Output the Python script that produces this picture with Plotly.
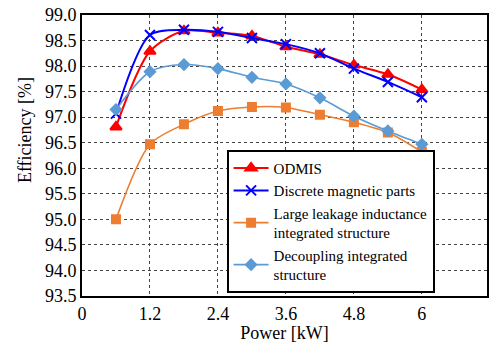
import plotly.graph_objects as go

power = [0.6, 1.2, 1.8, 2.4, 3.0, 3.6, 4.2, 4.8, 5.4, 6.0]
odmis = [96.81, 98.29, 98.69, 98.65, 98.59, 98.38, 98.23, 98.02, 97.84, 97.54]
discrete = [97.07, 98.61, 98.71, 98.67, 98.55, 98.43, 98.25, 97.95, 97.69, 97.39]
large_leak = [95.0, 96.47, 96.86, 97.12, 97.2, 97.19, 97.05, 96.9, 96.7, 96.32]
decoupling = [97.15, 97.89, 98.03, 97.95, 97.78, 97.65, 97.38, 97.02, 96.73, 96.47]

x_ticks = [0, 1.2, 2.4, 3.6, 4.8, 6]
x_ticklabels = ["0", "1.2", "2.4", "3.6", "4.8", "6"]
y_ticks = [93.5, 94.0, 94.5, 95.0, 95.5, 96.0, 96.5, 97.0, 97.5, 98.0, 98.5, 99.0]

FONT = "Liberation Serif"

fig = go.Figure()
series = [
    ("ODMIS", odmis, "#FF0000", "triangle-up", 10),
    ("Discrete magnetic parts", discrete, "#0000FF", "x-thin", 10),
    ("Large leakage inductance<br>integrated structure", large_leak, "#ED7D31", "square", 8),
    ("Decoupling integrated<br>structure", decoupling, "#5B9BD5", "diamond", 8),
]
for name, ys, color, sym, size in series:
    fig.add_trace(go.Scatter(
        x=power, y=ys, name=name, mode="lines+markers",
        line=dict(color=color, width=2 if sym in ("triangle-up", "x-thin") else 1.6, shape="spline", smoothing=0.8),
        marker=dict(symbol=sym, size=size, color=color,
                    line=dict(color=color, width=2)),
    ))

fig.update_layout(
    width=491, height=343,
    margin=dict(l=82, r=2, t=15, b=47),
    paper_bgcolor="white", plot_bgcolor="white",
    font=dict(family=FONT, size=17, color="black"),
    showlegend=True,
    legend=dict(
        x=0.357, y=0.012, xanchor="left", yanchor="bottom",
        bgcolor="white", bordercolor="black", borderwidth=2,
        font=dict(family=FONT, size=15, color="black"),
        tracegroupgap=0, itemwidth=35,
    ),
    annotations=[dict(
        text="Efficiency [%]", xref="paper", yref="paper",
        x=-0.141, y=0.59, xanchor="center", yanchor="middle",
        textangle=-90, showarrow=False,
        font=dict(family=FONT, size=18, color="black"),
    )],
)
fig.update_xaxes(
    range=[0, 7.15], tickvals=x_ticks, ticktext=x_ticklabels,
    showgrid=True, gridcolor="#444", griddash="dot", gridwidth=1,
    showline=True, linecolor="black", linewidth=2, mirror=True,
    zeroline=False, ticks="", title=dict(text="Power [kW]", standoff=2,
    font=dict(family=FONT, size=18)),
    tickfont=dict(family=FONT, size=18),
)
fig.update_yaxes(
    range=[93.5, 99.0], tickvals=y_ticks, tickformat=".1f",
    showgrid=True, gridcolor="#444", griddash="dot", gridwidth=1,
    showline=True, linecolor="black", linewidth=2, mirror=True,
    zeroline=False, ticks="",
    tickfont=dict(family=FONT, size=18),
)

fig.write_html("out.html")
